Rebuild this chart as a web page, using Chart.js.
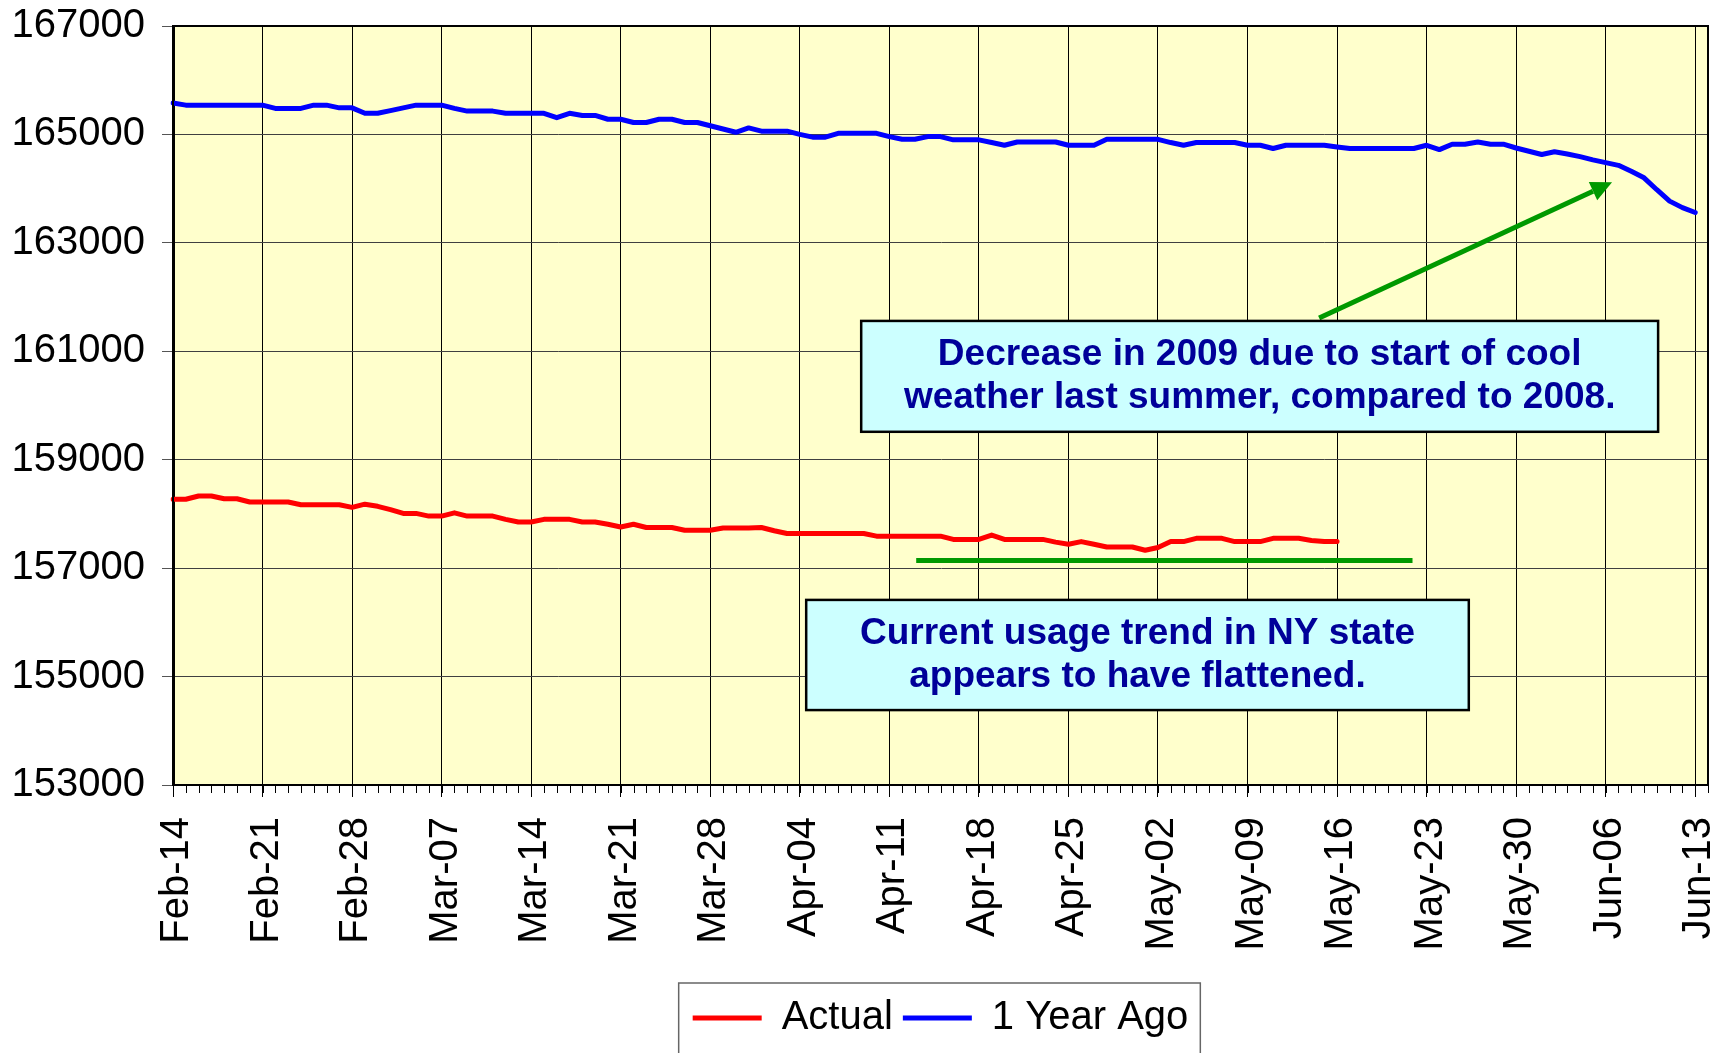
<!DOCTYPE html>
<html>
<head>
<meta charset="utf-8">
<script src="https://cdn.jsdelivr.net/npm/chart.js@4.4.1/dist/chart.umd.min.js"></script>
<style>
  html, body { margin: 0; padding: 0; background: #fff; }
  canvas { display: block; }
</style>
</head>
<body>
<canvas id="usageChart" width="1731" height="1053"></canvas>
<script>
// one category per day, Feb-14 .. Jun-14
const days = [];
for (let i = 0; i <= 120; i++) days.push(i);

// labels shown every 7th day
const tickLabels = ['Feb-14', 'Feb-21', 'Feb-28', 'Mar-07', 'Mar-14', 'Mar-21', 'Mar-28', 'Apr-04',
    'Apr-11', 'Apr-18', 'Apr-25', 'May-02', 'May-09', 'May-16', 'May-23', 'May-30', 'Jun-06', 'Jun-13'];

const yTicks = [153000, 155000, 157000, 159000, 161000, 163000, 165000, 167000];

// Actual (ends May-16)
const actual = [
    158270, 158270, 158330, 158330, 158280, 158280, 158220, 158220, 158220, 158220,
    158170, 158170, 158170, 158170, 158120, 158180, 158140, 158080, 158010, 158010,
    157960, 157960, 158020, 157960, 157960, 157960, 157900, 157850, 157850, 157900,
    157900, 157900, 157850, 157850, 157810, 157760, 157810, 157750, 157750, 157750,
    157700, 157700, 157700, 157740, 157740, 157740, 157750, 157690, 157640, 157640,
    157640, 157640, 157640, 157640, 157640, 157590, 157590, 157590, 157590, 157590,
    157590, 157530, 157530, 157530, 157610, 157530, 157530, 157530, 157530, 157480,
    157440, 157490, 157440, 157390, 157390, 157390, 157330, 157380, 157490, 157490,
    157550, 157550, 157550, 157490, 157490, 157490, 157550, 157550, 157550, 157510,
    157490, 157490
];

// 1 Year Ago
const yearAgo = [
    165580, 165540, 165540, 165540, 165540, 165540, 165540, 165540, 165480, 165480,
    165480, 165540, 165540, 165490, 165490, 165390, 165390, 165440, 165490, 165540,
    165540, 165540, 165480, 165430, 165430, 165430, 165390, 165390, 165390, 165390,
    165310, 165390, 165350, 165350, 165280, 165280, 165220, 165220, 165280, 165280,
    165220, 165220, 165160, 165100, 165040, 165120, 165060, 165060, 165060, 165000,
    164950, 164950, 165020, 165020, 165020, 165020, 164960, 164910, 164910, 164960,
    164960, 164900, 164900, 164900, 164850, 164800, 164860, 164860, 164860, 164860,
    164800, 164800, 164800, 164910, 164910, 164910, 164910, 164910, 164850, 164800,
    164850, 164850, 164850, 164850, 164800, 164800, 164740, 164800, 164800, 164800,
    164800, 164770, 164740, 164740, 164740, 164740, 164740, 164740, 164800, 164720,
    164820, 164820, 164860, 164820, 164820, 164750, 164690, 164630, 164680, 164640,
    164590, 164530, 164480, 164430, 164320, 164200, 163980, 163770, 163650, 163560
];

// call-outs, in data coordinates (day index, MWh)
const notes = [
    { x0: 53.8, x1: 116.1, y0: 161560, y1: 159515,
      lines: ['Decrease in 2009 due to start of cool', 'weather last summer, compared to 2008.'] },
    { x0: 49.5, x1: 101.3, y0: 156414, y1: 154382,
      lines: ['Current usage trend in NY state', 'appears to have flattened.'] }
];
const trendLine = { x0: 58.1, x1: 96.9, y: 157141 };
const arrow = { x0: 89.6, y0: 161613, x1: 112.5, y1: 164116 };

const FONT = '"Liberation Sans", Arial, sans-serif';
Chart.defaults.font.family = FONT;
Chart.defaults.color = '#000';

const plotDecor = {
    id: 'plotDecor',
    beforeDraw(chart) {
        const { ctx, chartArea: a } = chart;
        ctx.save();
        ctx.fillStyle = '#fff';
        ctx.fillRect(0, 0, chart.width, chart.height);
        ctx.fillStyle = '#FFFFCC';
        ctx.fillRect(a.left, a.top, a.right - a.left, a.bottom - a.top);
        ctx.restore();
    },
    afterDatasetsDraw(chart) {
        const { ctx } = chart;
        const xs = chart.scales.x;
        const ys = chart.scales.y;
        ctx.save();

        // flat trend line
        ctx.strokeStyle = '#009900';
        ctx.lineWidth = 5;
        ctx.beginPath();
        ctx.moveTo(xs.getPixelForValue(trendLine.x0), ys.getPixelForValue(trendLine.y));
        ctx.lineTo(xs.getPixelForValue(trendLine.x1), ys.getPixelForValue(trendLine.y));
        ctx.stroke();

        // arrow
        const ax0 = xs.getPixelForValue(arrow.x0), ay0 = ys.getPixelForValue(arrow.y0);
        const ax1 = xs.getPixelForValue(arrow.x1), ay1 = ys.getPixelForValue(arrow.y1);
        const ang = Math.atan2(ay1 - ay0, ax1 - ax0);
        const headLen = 21, headW = 10;
        const bx = ax1 - headLen * Math.cos(ang), by = ay1 - headLen * Math.sin(ang);
        ctx.beginPath();
        ctx.moveTo(ax0, ay0);
        ctx.lineTo(bx, by);
        ctx.stroke();
        ctx.fillStyle = '#009900';
        ctx.beginPath();
        ctx.moveTo(ax1, ay1);
        ctx.lineTo(bx + headW * Math.sin(ang), by - headW * Math.cos(ang));
        ctx.lineTo(bx - headW * Math.sin(ang), by + headW * Math.cos(ang));
        ctx.closePath();
        ctx.fill();

        // text boxes
        notes.forEach(n => {
            const l = xs.getPixelForValue(n.x0), r = xs.getPixelForValue(n.x1);
            const t = ys.getPixelForValue(n.y0), b = ys.getPixelForValue(n.y1);
            ctx.fillStyle = '#CCFFFF';
            ctx.fillRect(l, t, r - l, b - t);
            ctx.strokeStyle = '#000';
            ctx.lineWidth = 2.5;
            ctx.strokeRect(l, t, r - l, b - t);
            ctx.fillStyle = '#000099';
            ctx.font = 'bold 37px ' + FONT;
            ctx.textAlign = 'center';
            ctx.textBaseline = 'middle';
            const cx = (l + r) / 2, cy = (t + b) / 2;
            ctx.fillText(n.lines[0], cx, cy - 21.5);
            ctx.fillText(n.lines[1], cx, cy + 21.5);
        });
        ctx.restore();
    },
    afterDraw(chart) {
        const { ctx, chartArea: a } = chart;
        const xs = chart.scales.x;
        ctx.save();
        // plot frame
        ctx.strokeStyle = '#000';
        ctx.lineWidth = 2;
        ctx.strokeRect(a.left, a.top, a.right - a.left, a.bottom - a.top);
        // minor day ticks
        ctx.lineWidth = 1;
        ctx.beginPath();
        for (let i = 0; i < days.length; i++) {
            const x = Math.round(xs.getPixelForTick(i)) + 0.5;
            ctx.moveTo(x, a.bottom);
            ctx.lineTo(x, a.bottom + 8);
        }
        ctx.stroke();
        // legend frame
        const boxes = chart.legend.legendHitBoxes;
        if (boxes && boxes.length) {
            const left = Math.min(...boxes.map(h => h.left)) - 14;
            const right = Math.max(...boxes.map(h => h.left + h.width)) + 12;
            ctx.strokeStyle = '#666';
            ctx.lineWidth = 1.5;
            ctx.strokeRect(left, chart.legend.top - 5, right - left, chart.height);
        }
        ctx.restore();
    }
};

const ctx = document.getElementById('usageChart').getContext('2d');
new Chart(ctx, {
    type: 'line',
    data: {
        labels: days,
        datasets: [
            {
                label: 'Actual',
                data: actual,
                borderColor: '#FF0000',
                backgroundColor: '#FF0000',
                borderWidth: 5,
                borderCapStyle: 'round',
                borderJoinStyle: 'round',
                pointRadius: 0,
                fill: false,
                tension: 0
            },
            {
                label: '1 Year Ago',
                data: yearAgo,
                borderColor: '#0000FF',
                backgroundColor: '#0000FF',
                borderWidth: 5,
                borderCapStyle: 'round',
                borderJoinStyle: 'round',
                pointRadius: 0,
                fill: false,
                tension: 0
            }
        ]
    },
    options: {
        responsive: false,
        animation: false,
        layout: { padding: { top: 26, right: 23, bottom: 5, left: 0 } },
        scales: {
            x: {
                type: 'category',
                offset: false,
                grid: {
                    color: c => (c.index % 7 === 0 ? '#000' : 'rgba(0,0,0,0)'),
                    tickColor: c => (c.index % 7 === 0 ? '#000' : 'rgba(0,0,0,0)'),
                    lineWidth: 1,
                    tickLength: 12
                },
                border: { color: '#000', width: 2 },
                ticks: {
                    autoSkip: false,
                    maxRotation: 90,
                    minRotation: 90,
                    padding: 20,
                    labelOffset: 4,
                    font: { size: 40 },
                    color: '#000',
                    callback: (v, i) => (i % 7 === 0 ? tickLabels[i / 7] : '')
                },
                afterFit: s => { s.height = 203; s.paddingLeft = 0; s.paddingRight = 0; }
            },
            y: {
                min: yTicks[0],
                max: yTicks[yTicks.length - 1],
                afterBuildTicks: s => { s.ticks = yTicks.map(v => ({ value: v })); },
                grid: { color: '#404040', lineWidth: 1, tickLength: 11, tickColor: '#555' },
                border: { color: '#000', width: 3 },
                ticks: {
                    padding: 17,
                    font: { size: 40 },
                    color: '#000',
                    callback: v => String(v)
                },
                afterFit: s => { s.width = 173; s.paddingTop = 0; s.paddingBottom = 0; }
            }
        },
        plugins: {
            legend: {
                position: 'bottom',
                fullSize: false,
                labels: {
                    usePointStyle: true,
                    pointStyle: 'line',
                    pointStyleWidth: 69,
                    padding: 10,
                    color: '#000',
                    font: { size: 40 }
                }
            },
            tooltip: { enabled: false }
        }
    },
    plugins: [plotDecor]
});
</script>
</body>
</html>
